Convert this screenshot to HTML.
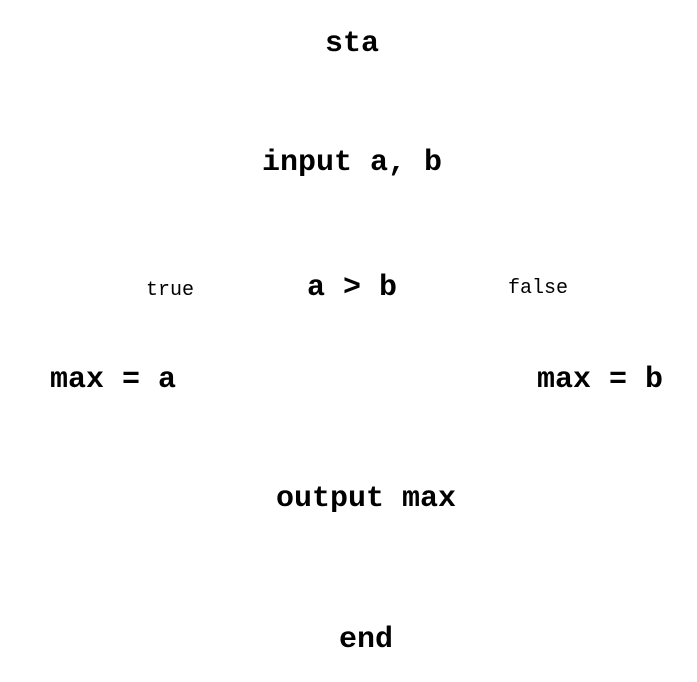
<!DOCTYPE html>
<html><head><style>html,body{margin:0;padding:0;background:#fff;}</style></head>
<body>
<svg width="697" height="682" xmlns="http://www.w3.org/2000/svg" style="display:block">
<g font-family="Liberation Mono, monospace" font-weight="bold" font-size="30" text-anchor="middle" fill="#000">
<text x="352" y="51">sta</text>
<text x="352" y="170">input a, b</text>
<text x="352" y="295">a &gt; b</text>
<text x="113" y="387">max = a</text>
<text x="600" y="387">max = b</text>
<text x="366" y="506">output max</text>
<text x="366" y="647">end</text>
</g>
<g font-family="Liberation Mono, monospace" font-size="20" text-anchor="middle" fill="#000">
<text x="170" y="295">true</text>
<text x="538" y="293">false</text>
</g>
</svg>
</body></html>
